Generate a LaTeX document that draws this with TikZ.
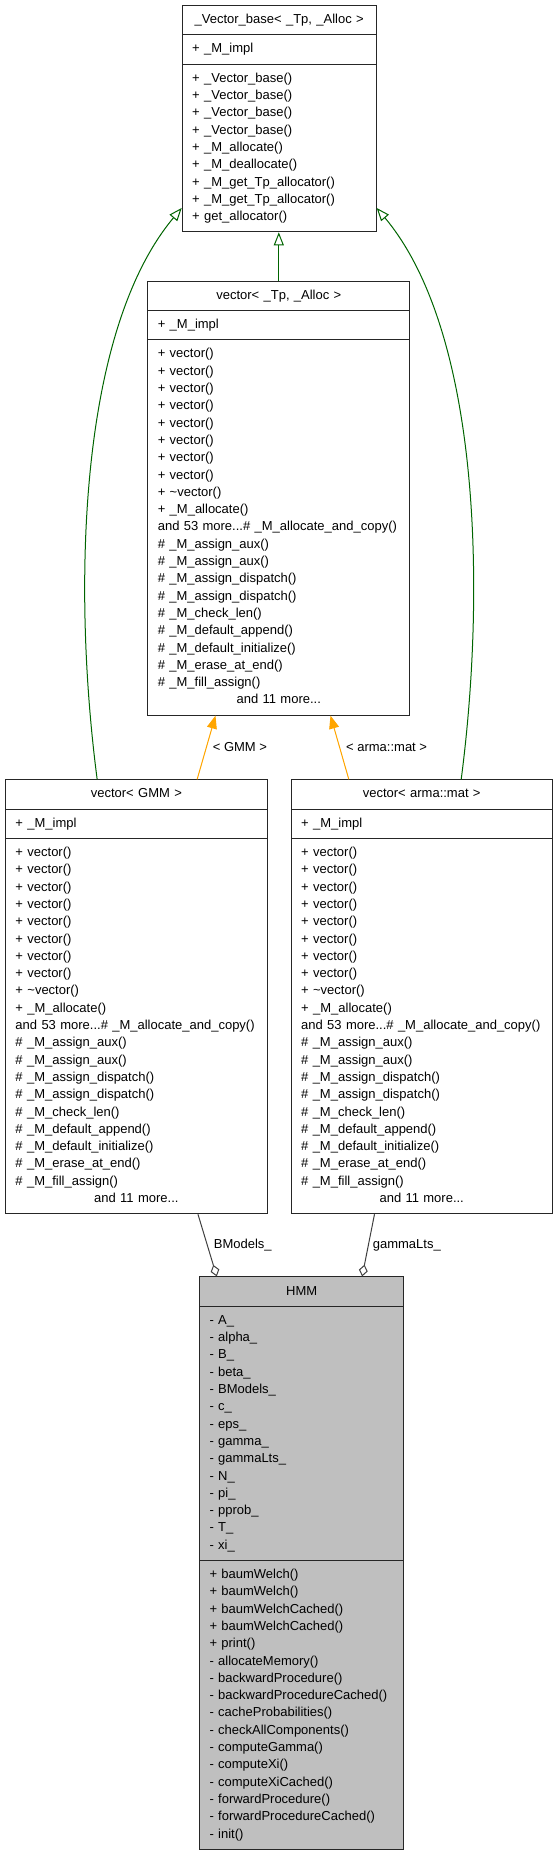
\documentclass[tikz,border=0pt]{standalone}
\usepackage{fontspec}
\setmainfont{Liberation Sans}
\usetikzlibrary{arrows.meta,shapes.multipart,calc}
\definecolor{inhgreen}{RGB}{0,100,0}
\definecolor{tmplorange}{RGB}{255,165,0}
\definecolor{usegray}{RGB}{64,64,64}
\definecolor{hmmfill}{RGB}{191,191,191}
\newcommand{\cpt}[1]{\strut#1\strut}
\newcommand{\ctitle}[1]{\strut\makebox[\linewidth]{#1}\strut}
\newcommand{\vecops}{\cpt{+ vector()\\+ vector()\\+ vector()\\+ vector()\\+ vector()\\+ vector()\\+ vector()\\+ vector()\\+ \textasciitilde vector()\\+ \_M\_allocate()\\and 53 more...\# \_M\_allocate\_and\_copy()\\\# \_M\_assign\_aux()\\\# \_M\_assign\_aux()\\\# \_M\_assign\_dispatch()\\\# \_M\_assign\_dispatch()\\\# \_M\_check\_len()\\\# \_M\_default\_append()\\\# \_M\_default\_initialize()\\\# \_M\_erase\_at\_end()\\\# \_M\_fill\_assign()\\\makebox[\linewidth]{and 11 more...}}}
\tikzset{
  umlclass/.style={rectangle split,rectangle split parts=3,draw=black!85,line width=1pt,
    fill=#1,anchor=north west,align=left,inner xsep=10pt,inner ysep=5.5pt,
    font=\fontsize{13}{17.3}\selectfont},
  umlclass/.default=white,
  inherit/.style={draw=inhgreen,line width=1pt,-{Triangle[open,length=13pt,width=10pt]}},
  tmpl/.style={draw=tmplorange,line width=1pt,-{Triangle[length=13pt,width=10pt]},fill=tmplorange},
  usage/.style={draw=usegray,line width=1pt,-{Diamond[open,length=12pt,width=9pt]}},
  elabel/.style={font=\fontsize{13}{17.3}\selectfont,inner sep=2pt,fill=none},
}
\begin{document}
\begin{tikzpicture}[x=1pt,y=-1pt]
  \useasboundingbox (0,0) rectangle (557,1853);
  % classes
  \node[umlclass,text width=174pt] (base) at (181.7,5)
    {\ctitle{\_Vector\_base< \_Tp, \_Alloc >}
     \nodepart{two}\cpt{+ \_M\_impl}
     \nodepart{three}\cpt{+ \_Vector\_base()\\+ \_Vector\_base()\\+ \_Vector\_base()\\+ \_Vector\_base()\\+ \_M\_allocate()\\+ \_M\_deallocate()\\+ \_M\_get\_Tp\_allocator()\\+ \_M\_get\_Tp\_allocator()\\+ get\_allocator()}};
  \node[umlclass,text width=242pt] (vec) at (147.3,280.7)
    {\ctitle{vector< \_Tp, \_Alloc >}
     \nodepart{two}\cpt{+ \_M\_impl}
     \nodepart{three}\vecops};
  \node[umlclass,text width=241.7pt] (vgmm) at (5,779.3)
    {\ctitle{vector< GMM >}
     \nodepart{two}\cpt{+ \_M\_impl}
     \nodepart{three}\vecops};
  \node[umlclass,text width=241pt] (vmat) at (290.7,779.3)
    {\ctitle{vector< arma::mat >}
     \nodepart{two}\cpt{+ \_M\_impl}
     \nodepart{three}\vecops};
  \node[umlclass=hmmfill,text width=184.3pt] (hmm) at (199,1276.4)
    {\ctitle{HMM}
     \nodepart{two}\cpt{- A\_\\- alpha\_\\- B\_\\- beta\_\\- BModels\_\\- c\_\\- eps\_\\- gamma\_\\- gammaLts\_\\- N\_\\- pi\_\\- pprob\_\\- T\_\\- xi\_}
     \nodepart{three}\cpt{+ baumWelch()\\+ baumWelch()\\+ baumWelchCached()\\+ baumWelchCached()\\+ print()\\- allocateMemory()\\- backwardProcedure()\\- backwardProcedureCached()\\- cacheProbabilities()\\- checkAllComponents()\\- computeGamma()\\- computeXi()\\- computeXiCached()\\- forwardProcedure()\\- forwardProcedureCached()\\- init()}};
  % inheritance
  \draw[inherit] (vec.north) -- (vec.north |- base.south);
  \draw[inherit] ([xshift=-39.2pt]vgmm.north) .. controls +(-24.7,-189.3) and +(-103.7,124) .. ([yshift=-89.3pt]base.west);
  \draw[inherit] ([xshift=39.5pt]vmat.north) .. controls +(24.7,-189.3) and +(103.7,124) .. ([yshift=-89.3pt]base.east);
  % template instances
  \draw[tmpl] ([xshift=60.8pt]vgmm.north) -- node[elabel,right=4pt]{< GMM >} ([xshift=-63.3pt]vec.south);
  \draw[tmpl] ([xshift=-72.9pt]vmat.north) -- node[elabel,right=4pt]{< arma::mat >} ([xshift=51.7pt]vec.south);
  % members
  \draw[usage] ([xshift=61.6pt]vgmm.south) -- node[elabel,right=4pt]{BModels\_} ([xshift=-84.9pt]hmm.north);
  \draw[usage] ([xshift=-47.2pt]vmat.south) -- node[elabel,right=2pt]{gammaLts\_} ([xshift=60.5pt]hmm.north);
\end{tikzpicture}
\end{document}
